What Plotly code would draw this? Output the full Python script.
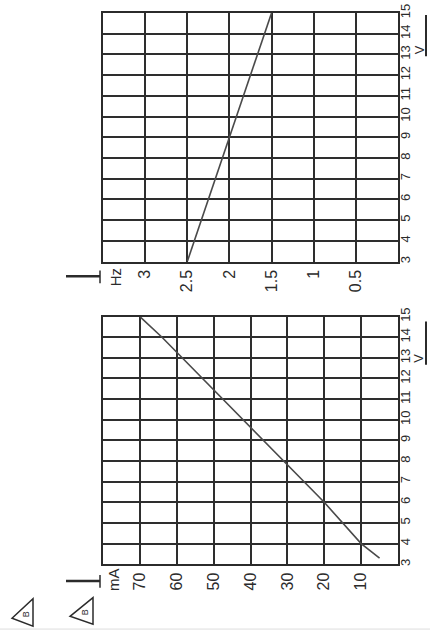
import plotly.graph_objects as go

# ---- data ----
v_ticks = [3, 4, 5, 6, 7, 8, 9, 10, 11, 12, 13, 14, 15]
v_labels = [str(v) for v in v_ticks]

ma_volts = [3.3, 4, 6, 8, 10, 12, 14, 15]
ma_values = [5, 10, 20, 31, 42, 53, 64, 70]
ma_ticks = [10, 20, 30, 40, 50, 60, 70]
ma_labels = ["10", "20", "30", "40", "50", "60", "70"]

hz_volts = [3, 9, 15]
hz_values = [2.5, 2.0, 1.5]
hz_ticks = [0.5, 1.0, 1.5, 2.0, 2.5, 3.0]
hz_labels = ["0.5", "1", "1.5", "2", "2.5", "3"]

W, H = 430, 635
def px(x):
    return x / W
def py(y):
    return 1 - y / H

INK = "#2b2b2b"
GRID = "#2e2e2e"
FONT = "Liberation Sans"

fig = go.Figure()
fig.add_trace(go.Scatter(x=hz_values, y=hz_volts, mode="lines",
                         line=dict(color="#4a4a4a", width=1.6),
                         xaxis="x2", yaxis="y2", showlegend=False, hoverinfo="skip"))
fig.add_trace(go.Scatter(x=ma_values, y=ma_volts, mode="lines",
                         line=dict(color="#4a4a4a", width=1.6),
                         xaxis="x", yaxis="y", showlegend=False, hoverinfo="skip"))

xdom = [px(103), px(398)]
common_x = dict(domain=xdom, showgrid=True, gridcolor=GRID, gridwidth=2,
                showline=True, linecolor=INK, linewidth=2, mirror=True,
                zeroline=False, ticks="", tickangle=-90,
                tickfont=dict(family=FONT, size=16, color=INK), fixedrange=True)
common_y = dict(showgrid=True, gridcolor=GRID, gridwidth=2,
                showline=True, linecolor=INK, linewidth=2, mirror=True,
                zeroline=False, ticks="", tickangle=-90, side="right",
                ticklabelstandoff=-6,
                tickfont=dict(family=FONT, size=13, color=INK),
                range=[3, 15], tickvals=v_ticks, ticktext=v_labels, fixedrange=True)

fig.update_layout(
    width=W, height=H,
    margin=dict(l=0, r=0, t=0, b=0),
    paper_bgcolor="white", plot_bgcolor="white",
    showlegend=False,
    xaxis=dict(common_x, range=[80, 0], tickvals=ma_ticks, ticktext=ma_labels, anchor="y"),
    yaxis=dict(common_y, domain=[py(565), py(313)], anchor="x"),
    xaxis2=dict(common_x, range=[3.5, 0], tickvals=hz_ticks, ticktext=hz_labels, anchor="y2"),
    yaxis2=dict(common_y, domain=[py(257), py(4)], anchor="x2"),
)

ann = []
def label(text, x, y, size=14):
    ann.append(dict(text=text, x=px(x), y=py(y), xref="paper", yref="paper",
                    xanchor="center", yanchor="middle", borderpad=0,
                    showarrow=False, textangle=-90,
                    font=dict(family=FONT, size=size, color=INK)))

label("mA", 114, 580, 15)
label("Hz", 115, 273, 15)
label("V", 419, 42, 13)
label("V", 419, 356, 13)
label("B", 26, 616, 9)
label("B", 85, 614, 9)

shapes = []
def line(x0, y0, x1, y1, w=2.5, c=INK):
    shapes.append(dict(type="line", xref="paper", yref="paper",
                       x0=px(x0), y0=py(y0), x1=px(x1), y1=py(y1),
                       line=dict(color=c, width=w)))

# unit arrows
line(66, 582, 100, 582, 2.5)
line(100, 576, 100, 589, 1.5)
line(66, 272, 100, 272, 2.5)
line(100, 266, 100, 279, 1.5)
line(426, 48, 426, 6, 2)
line(426, 362, 426, 318, 2)

# triangle icons
def tri(pts):
    path = "M " + " L ".join(f"{px(a)},{py(b)}" for a, b in pts) + " Z"
    shapes.append(dict(type="path", xref="paper", yref="paper", path=path,
                       line=dict(color=INK, width=1.5)))
tri([(12, 620), (33, 600), (33, 628)])
tri([(70, 618), (93, 599), (93, 626)])

# scanner edge
line(0, 631, 430, 631, 1, "#dddddd")

fig.update_layout(annotations=ann, shapes=shapes)
fig.write_html("out.html",
               config={"displayModeBar": False, "staticPlot": True},
               post_script="document.body.style.margin='0';document.body.style.overflow='hidden';")
